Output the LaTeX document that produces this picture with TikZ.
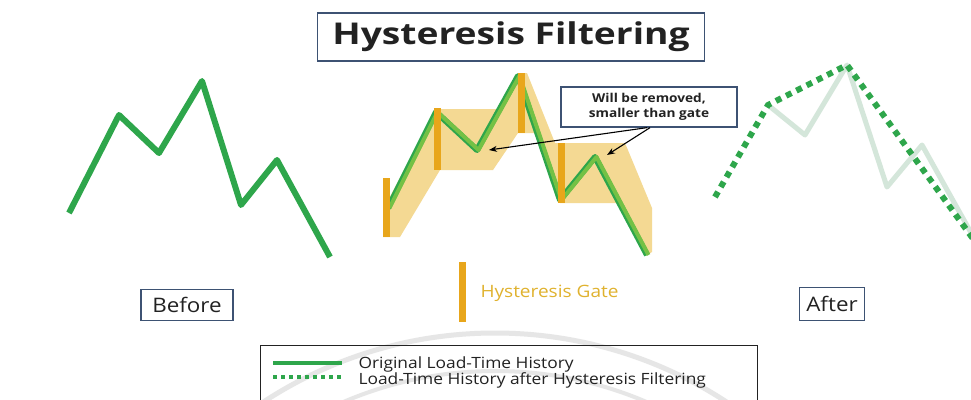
\documentclass[tikz,border=0pt]{standalone}
\usepackage{fontspec}
\setmainfont[FakeStretch=1.12]{Open Sans}
\newfontfamily\titlefont[FakeStretch=1.24]{Open Sans}
\usetikzlibrary{arrows.meta,positioning}
\definecolor{LoadGreen}{HTML}{2EA64B}
\definecolor{LightLoad}{HTML}{74C145}
\definecolor{FadeGreen}{HTML}{D4E6DA}
\definecolor{GateTan}{HTML}{F4D993}
\definecolor{GateBar}{HTML}{E8A61B}
\definecolor{GateText}{HTML}{E0B22E}
\definecolor{FrameBlue}{HTML}{3D5273}
\definecolor{Ink}{HTML}{222222}
\definecolor{Water}{HTML}{E6E6E6}

\begin{document}
\begin{tikzpicture}[x=1pt,y=-1pt,
  frame/.style={draw=FrameBlue,line width=1.4pt,fill=white,inner sep=0pt,text=Ink},
  load/.style={LoadGreen,line width=6pt,line join=round},
  filtered/.style={LoadGreen,line width=6pt,dash pattern=on 6pt off 5.5pt},
  pointer/.style={-{Stealth[length=8pt,width=6pt]},line width=1.1pt}]
  \clip (0,0) rectangle (971,399);
  \fill[white] (0,0) rectangle (971,399);
  % watermark arcs
  \draw[Water,line width=5pt] (495,756) circle[radius=423pt];
  \draw[Water,line width=4pt] (495,756) circle[radius=385pt];

  % title
  \node[frame,line width=1.8pt,minimum width=387pt,minimum height=48pt,
    font=\titlefont\bfseries\fontsize{30}{30}\selectfont] (title) at (511,37) {Hysteresis Filtering};

  % before
  \draw[load] (69,213) -- (119,115) -- (159,153) -- (202,81) -- (241,205) -- (277,160) -- (330,257);
  \node[frame,minimum width=92pt,minimum height=31pt,font=\fontsize{20}{20}\selectfont] (before) at (187,305) {Before};

  % gate band
  \fill[GateTan] (383,237) -- (383,210) -- (436,109) -- (500,109) -- (518,73) -- (527,73)
    -- (555,143) -- (625,143) -- (652,208) -- (652,252) -- (647,255) -- (619,203)
    -- (560,203) -- (537,133) -- (518,133) -- (493,170) -- (440,170) -- (400,237) -- cycle;
  \draw[load] (388,208) -- (436,112) -- (477,150) -- (518,76) -- (560,200) -- (595,157) -- (647,255);
  \draw[LightLoad,line width=4pt,line join=round,xshift=1.5pt]
    (388,208) -- (436,112) -- (477,150) -- (518,76) -- (560,200) -- (595,157) -- (647,255);
  \fill[GateBar] (383,178) rectangle (390,237);
  \fill[GateBar] (434,108) rectangle (441,170);
  \fill[GateBar] (518,73) rectangle (525,133);
  \fill[GateBar] (558,143) rectangle (565,203);

  \node[frame,line width=1.3pt,minimum width=176pt,minimum height=40pt,align=center,
    font=\bfseries\fontsize{12.2}{15}\selectfont] (removed) at (649,107) {Will be removed,\\smaller than gate};
  \coordinate (dip) at (489,150);
  \coordinate (hump) at (607,155);
  \draw[pointer] ([xshift=-2pt]removed.south) -- (dip);
  \draw[pointer] ([xshift=1pt]removed.south) -- (hump);

  % gate key
  \fill[GateBar] (459,262) rectangle (466,322);
  \node[anchor=west,text=GateText,font=\fontsize{17}{17}\selectfont] (gate) at (477,293) {Hysteresis Gate};

  % after
  \draw[FadeGreen,line width=5pt,line join=round] (768,105) -- (805,135) -- (847,65) -- (887,187) -- (922,145) -- (979,247);
  \draw[filtered] (715,197) -- (768,105) -- (847,65) -- (979,247);
  \node[frame,minimum width=65pt,minimum height=33pt,font=\fontsize{20}{20}\selectfont] (after) at (832,304) {After};

  % legend
  \node[draw=Ink,line width=1.4pt,minimum width=497pt,minimum height=80pt,anchor=north west] (legend) at (260,345) {};
  \node[anchor=west,text=Ink,font=\fontsize{15.5}{16}\selectfont] (orig) at (355,364) {Original Load-Time History};
  \node[anchor=west,text=Ink,font=\fontsize{15.5}{16}\selectfont] (filt) at (355,380) {Load-Time History after Hysteresis Filtering};
  \coordinate (o1) at (273,363);
  \coordinate (o2) at (342,363);
  \coordinate (f1) at (273,377);
  \coordinate (f2) at (342,377);
  \draw[LoadGreen,line width=3.5pt] (o1) -- (o2);
  \draw[LoadGreen,line width=3.5pt,dash pattern=on 3.5pt off 4.5pt] (f1) -- (f2);
\end{tikzpicture}
\end{document}
